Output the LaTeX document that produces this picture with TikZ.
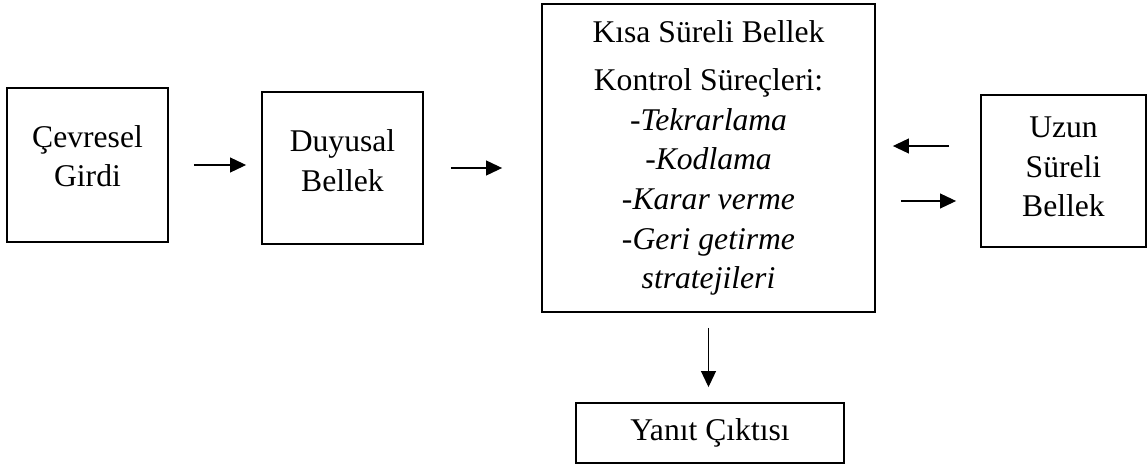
\documentclass[tikz,border=0pt]{standalone}
\usepackage{fontspec}
\setmainfont{Liberation Serif}
\usetikzlibrary{arrows.meta}
\tikzset{
  kutu/.style={draw,line width=1.1pt,inner sep=0pt},
  yazi/.style={inner sep=0pt,align=center,font=\fontsize{18}{22.5}\selectfont},
  ok/.style={line width=0.6pt,-{Triangle[length=0.32cm,width=0.3cm]}}
}
\begin{document}
\begin{tikzpicture}[x=0.02cm,y=-0.02cm]
  \useasboundingbox (0,0) rectangle (1147,466);
  % kutular
  \node[kutu,minimum width=3.22cm,minimum height=3.08cm] (cevre) at (87.5,165) {};
  \node[yazi] (cevreyazi) at ([yshift=0.18cm]cevre.center) {Çevresel\\Girdi};
  \node[kutu,minimum width=3.22cm,minimum height=3.04cm] (duyusal) at (342.5,168) {};
  \node[yazi] (duyusalyazi) at ([yshift=0.15cm]duyusal.center) {Duyusal\\Bellek};
  \node[kutu,yazi,minimum width=6.66cm,minimum height=6.16cm] (kisa) at (708.5,158)
    {Kısa Süreli Bellek\\[5pt]
     Kontrol Süreçleri:\\
     -\textit{Tekrarlama}\\
     -\textit{Kodlama}\\
     -\textit{Karar verme}\\
     -\textit{Geri getirme}\\
     \textit{stratejileri}};
  \node[kutu,minimum width=3.3cm,minimum height=3.04cm] (uzun) at (1063.5,171) {};
  \node[yazi] (uzunyazi) at ([yshift=0.08cm]uzun.center) {Uzun\\Süreli\\Bellek};
  \node[kutu,yazi,minimum width=5.36cm,minimum height=1.2cm] (yanit) at (710,433) {Yanıt Çıktısı};
  % oklar
  \draw[ok,shorten <=0.5cm,shorten >=0.3cm] (cevre.east) -- (cevre.east -| duyusal.west);
  \draw[ok,shorten <=0.54cm,shorten >=0.78cm] (duyusal.east) -- (duyusal.east -| kisa.west);
  \draw[ok,shorten <=0.62cm,shorten >=0.34cm] ([yshift=0.5cm]uzun.west) -- ([yshift=0.5cm]uzun.west -| kisa.east);
  \draw[ok,shorten <=0.5cm,shorten >=0.48cm] ([yshift=-0.6cm]uzun.west -| kisa.east) -- ([yshift=-0.6cm]uzun.west);
  \draw[ok,shorten <=0.3cm,shorten >=0.3cm] (kisa.south) -- (kisa.south |- yanit.north);
\end{tikzpicture}
\end{document}
